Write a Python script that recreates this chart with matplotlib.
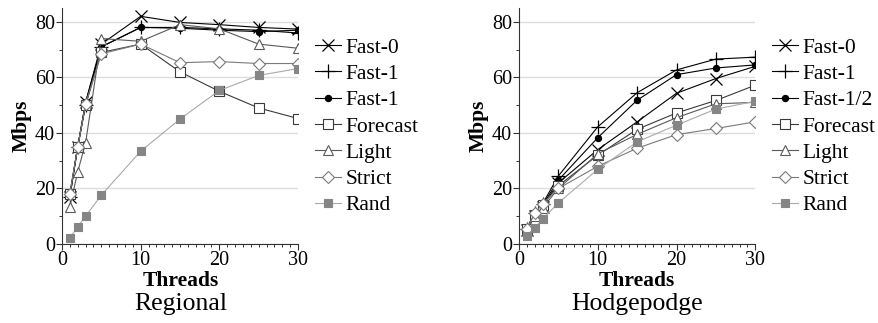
import matplotlib
matplotlib.use("Agg")
import matplotlib.pyplot as plt
from matplotlib.ticker import MultipleLocator

plt.rcParams['font.family'] = ['Liberation Serif', 'DejaVu Serif']

threads = [1, 2, 3, 5, 10, 15, 20, 25, 30]

# Regional
reg_fast0 = [17, 35, 51, 72, 82, 79.8, 79, 78, 77.4]
reg_fast1 = [17, 35, 50, 71, 78, 78, 77.5, 77, 76]
reg_fast1b = [18, 35, 51, 71, 78, 77.7, 77, 76.5, 77]
reg_forecast = [18, 35, 50, 69, 72, 62, 55, 49, 45.2]
reg_light = [13.5, 26, 36.5, 74, 73, 79, 77.5, 72, 70.5]
reg_strict = [18, 35, 50.5, 68.5, 72, 65.3, 65.7, 65, 65]
reg_rand = [2.2, 6.2, 10, 17.6, 33.4, 45, 55.3, 60.7, 63.2]

# Hodgepodge
hod_fast0 = [5, 10, 13.5, 22, 34, 44, 54.3, 59.6, 64]
hod_fast1 = [5.5, 11, 14.5, 24.5, 42.2, 54.5, 62.7, 66.6, 67.3]
hod_fast12 = [5.5, 11, 14, 23, 38.3, 51.8, 61, 63.4, 64.5]
hod_forecast = [5.5, 10.5, 14, 21, 32, 41.3, 47.2, 51.7, 57.2]
hod_light = [5, 10, 13, 20, 32.5, 39.5, 45.5, 50.5, 51]
hod_strict = [5.5, 11, 14.5, 20, 28, 34.5, 39.4, 41.6, 44]
hod_rand = [3, 5.8, 9, 14.8, 26.9, 36.8, 42.8, 48.6, 51.4]

reg_labels = ['Fast-0', 'Fast-1', 'Fast-1', 'Forecast', 'Light', 'Strict', 'Rand']
hod_labels = ['Fast-0', 'Fast-1', 'Fast-1/2', 'Forecast', 'Light', 'Strict', 'Rand']

styles = [
    dict(color='black', marker='x', ms=8, mew=0.9, mfc='none', mec='black'),
    dict(color='black', marker='+', ms=10, mew=0.9, mfc='none', mec='black'),
    dict(color='black', marker='o', ms=4.5, mew=0.8, mfc='black', mec='black'),
    dict(color='#3a3a3a', marker='s', ms=6.5, mew=0.8, mfc='white', mec='#3a3a3a'),
    dict(color='#5a5a5a', marker='^', ms=7, mew=0.8, mfc='white', mec='#5a5a5a'),
    dict(color='#7a7a7a', marker='D', ms=6.5, mew=0.8, mfc='white', mec='#7a7a7a'),
    dict(color='#aaaaaa', marker='s', ms=6, mew=0.8, mfc='#858585', mec='#858585'),
]

W, H = 879, 323
fig = plt.figure(figsize=(W / 100, H / 100), dpi=100)


def setup(ax, series, labels, title, cx):
    for y, lab, st in zip(series, labels, styles):
        ax.plot(threads, y, lw=0.8, label=lab, **st)
    ax.set_xlim(0, 30)
    ax.set_ylim(0, 85)
    ax.xaxis.set_major_locator(MultipleLocator(10))
    ax.xaxis.set_minor_locator(MultipleLocator(1))
    ax.yaxis.set_major_locator(MultipleLocator(20))
    ax.yaxis.set_minor_locator(MultipleLocator(10))
    for s in ['top', 'right']:
        ax.spines[s].set_visible(False)
    for s in ['left', 'bottom']:
        ax.spines[s].set_color('#333333')
        ax.spines[s].set_linewidth(0.8)
    ax.tick_params(which='major', direction='out', length=4, width=0.8,
                   color='#333333', labelsize=14.5, pad=1)
    ax.tick_params(which='minor', direction='out', length=2, width=0.7,
                   color='#333333')
    ax.grid(axis='y', which='major', color='#dddddd', lw=1)
    ax.set_axisbelow(True)
    ax.set_ylabel('Mbps', fontsize=15.5, fontweight='bold', labelpad=2)
    ax.yaxis.set_label_coords(-0.13, 0.5)
    ax.legend(loc='upper left', bbox_to_anchor=(1.072, 0.875), frameon=False,
              fontsize=15.5, handlelength=1.2, handletextpad=0.2,
              labelspacing=0.29, borderaxespad=0, borderpad=0)
    fig.text(cx / W, 1 - 281 / H, 'Threads', ha='center', va='center',
             fontsize=15.5, fontweight='bold')
    fig.text(cx / W, 1 - 304 / H, title, ha='center', va='center', fontsize=18.5)


ax1 = fig.add_axes([62 / W, 1 - 244 / H, 236 / W, 236 / H])
setup(ax1, [reg_fast0, reg_fast1, reg_fast1b, reg_forecast, reg_light, reg_strict, reg_rand],
      reg_labels, 'Regional', 181)

ax2 = fig.add_axes([519 / W, 1 - 244 / H, 236.3 / W, 236 / H])
setup(ax2, [hod_fast0, hod_fast1, hod_fast12, hod_forecast, hod_light, hod_strict, hod_rand],
      hod_labels, 'Hodgepodge', 637)

fig.savefig('out.png', dpi=100)
